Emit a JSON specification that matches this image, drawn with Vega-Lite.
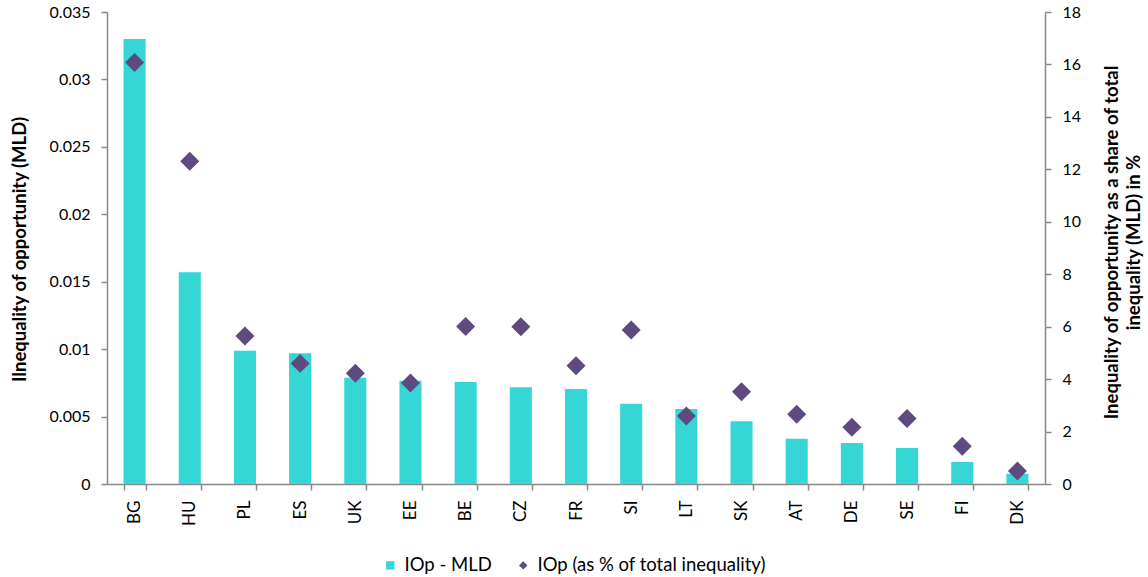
{
  "$schema": "https://vega.github.io/schema/vega-lite/v6.json",
  "width": 938,
  "height": 472,
  "autosize": "none",
  "padding": {"left": 107, "top": 12, "right": 103, "bottom": 93},
  "background": "white",
  "config": {
    "view": {"stroke": null},
    "font": "Lato",
    "axis": {
      "grid": false,
      "domainColor": "#888888",
      "domainWidth": 1.5,
      "tickColor": "#888888",
      "tickWidth": 1.5,
      "labelColor": "#000000",
      "titleColor": "#000000",
      "labelFont": "Lato",
      "titleFont": "Lato",
      "labelFontSize": 15,
      "titleFontSize": 18.5,
      "titleFontWeight": "bold"
    }
  },
  "data": {
    "values": [
      {"country": "BG", "mld": 0.0330, "pct": 16.07},
      {"country": "HU", "mld": 0.0157, "pct": 12.31},
      {"country": "PL", "mld": 0.00988, "pct": 5.64},
      {"country": "ES", "mld": 0.00969, "pct": 4.60},
      {"country": "UK", "mld": 0.00788, "pct": 4.22},
      {"country": "EE", "mld": 0.00766, "pct": 3.85},
      {"country": "BE", "mld": 0.00756, "pct": 6.01},
      {"country": "CZ", "mld": 0.00717, "pct": 6.00},
      {"country": "FR", "mld": 0.00704, "pct": 4.51},
      {"country": "SI", "mld": 0.00595, "pct": 5.87},
      {"country": "LT", "mld": 0.00556, "pct": 2.59},
      {"country": "SK", "mld": 0.00465, "pct": 3.52},
      {"country": "AT", "mld": 0.00336, "pct": 2.66},
      {"country": "DE", "mld": 0.00304, "pct": 2.16},
      {"country": "SE", "mld": 0.00267, "pct": 2.50},
      {"country": "FI", "mld": 0.00163, "pct": 1.44},
      {"country": "DK", "mld": 0.00076, "pct": 0.50}
    ]
  },
  "encoding": {
    "x": {
      "field": "country",
      "type": "nominal",
      "sort": null,
      "scale": {"paddingInner": 0.6, "paddingOuter": 0.3},
      "axis": {
        "title": null,
        "labelAngle": -90,
        "labelAlign": "right",
        "labelBaseline": "middle",
        "labelFontSize": 17,
        "tickBand": "extent",
        "tickSize": 6,
        "labelPadding": 10
      }
    }
  },
  "layer": [
    {
      "mark": {"type": "bar", "color": "#36D5D6"},
      "encoding": {
        "y": {
          "field": "mld",
          "type": "quantitative",
          "scale": {"domain": [0, 0.035], "nice": false},
          "axis": {
            "orient": "left",
            "values": [0, 0.005, 0.01, 0.015, 0.02, 0.025, 0.03, 0.035],
            "format": "~g",
            "tickSize": 6,
            "labelPadding": 11,
            "labelFontSize": 16,
            "title": "Ilnequality of opportunity (MLD)",
            "titleX": -88,
            "titleY": 237,
            "titleBaseline": "middle",
            "titleAlign": "center"
          }
        },
        "color": {
          "datum": "IOp - MLD",
          "type": "nominal",
          "scale": {
            "domain": ["IOp - MLD", "IOp (as % of total inequality)"],
            "range": ["#36D5D6", "#5E4A7E"]
          },
          "legend": {
            "orient": "none",
            "legendX": 274,
            "legendY": 544,
            "direction": "horizontal",
            "title": null,
            "labelFont": "Lato",
            "labelFontSize": 18.5,
            "labelLimit": 0,
            "labelColor": "#000000",
            "symbolSize": 70,
            "symbolStrokeWidth": 0,
            "columnPadding": 22,
            "labelOffset": 5,
            "encode": {
              "symbols": {
                "update": {
                  "shape": {"signal": "datum.value === 'IOp - MLD' ? 'square' : 'diamond'"}
                }
              }
            }
          }
        }
      }
    },
    {
      "mark": {"type": "point", "shape": "diamond", "filled": true, "size": 360, "opacity": 1},
      "encoding": {
        "y": {
          "field": "pct",
          "type": "quantitative",
          "scale": {"domain": [0, 18], "nice": false},
          "axis": {
            "orient": "right",
            "values": [0, 2, 4, 6, 8, 10, 12, 14, 16, 18],
            "tickSize": 6,
            "labelPadding": 11,
            "labelFontSize": 16,
            "title": ["Inequality of opportunity as a share of total", "inequality (MLD) in %"],
            "titleAngle": -90,
            "titleX": 66,
            "titleY": 230,
            "titleBaseline": "middle",
            "titleAlign": "center",
            "titleLineHeight": 22
          }
        },
        "color": {"datum": "IOp (as % of total inequality)", "type": "nominal"}
      }
    }
  ],
  "resolve": {"scale": {"y": "independent"}}
}
